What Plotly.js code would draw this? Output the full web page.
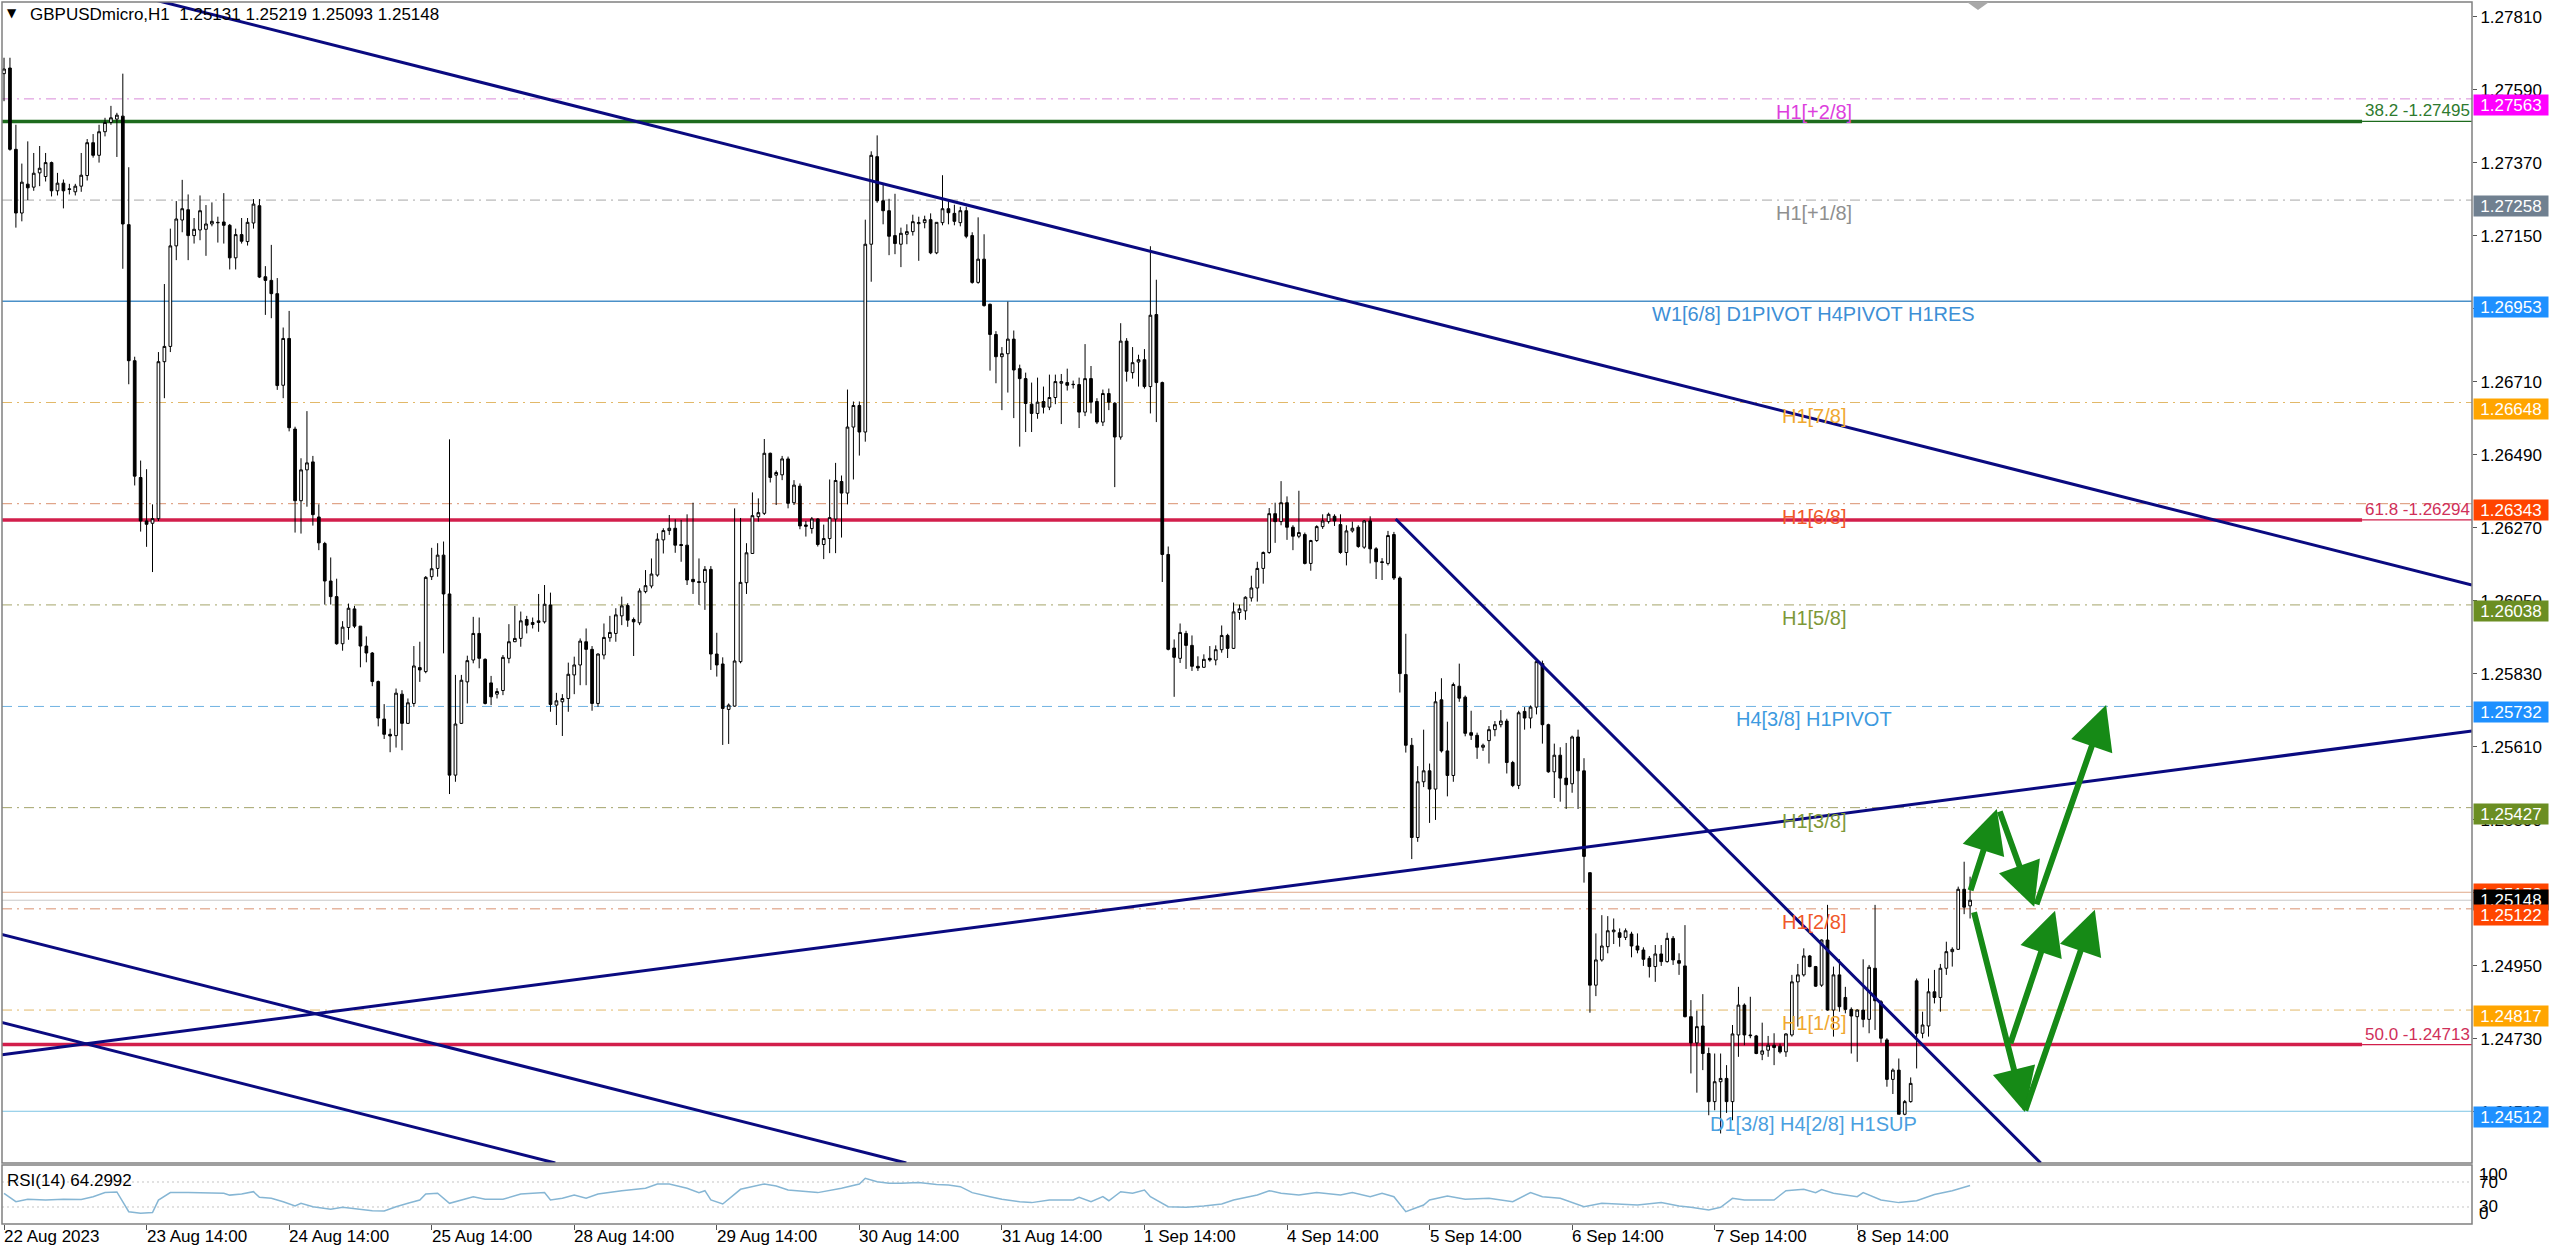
<!DOCTYPE html>
<html>
<head>
<meta charset="utf-8">
<script src="https://cdn.plot.ly/plotly-3.0.1.min.js"></script>
<style>html,body{margin:0;padding:0;background:#fff;}#chart{width:2560px;height:1252px;}</style>
</head>
<body>
<div id="chart"></div>
<script>
// ---------------- DATA ----------------
const symbolTitle = 'GBPUSDmicro,H1';
const openP = [
1.27639,1.27656,1.27411,1.27219,1.27306,1.27297,1.27340,1.27329,1.27371,1.27286,
1.27309,1.27292,1.27283,1.27300,1.27332,1.27431,1.27393,1.27464,1.27492,1.27502,
1.27511,1.27184,1.26774,1.26422,1.26291,1.26284,1.26298,1.26771,1.26817,1.27120,
1.27198,1.27229,1.27151,1.27168,1.27170,1.27186,1.27191,1.27192,1.27182,1.27084,
1.27154,1.27133,1.27189,1.27241,1.27027,1.27016,1.26976,1.26700,1.26841,1.26568,
1.26352,1.26445,1.26469,1.26303,1.26223,1.26110,1.26063,1.25921,1.25970,1.26026,
1.25974,1.25914,1.25893,1.25807,1.25694,1.25648,1.25644,1.25769,1.25681,1.25741,
1.25849,1.25837,1.26123,1.26148,1.26188,1.26071,1.25525,1.25681,1.25806,1.25872,
1.25952,1.25874,1.25803,1.25769,1.25780,1.25877,1.25927,1.25937,1.25994,1.25979,
1.25985,1.25987,1.26038,1.25736,1.25746,1.25756,1.25827,1.25857,1.25927,1.25904,
1.25741,1.25887,1.25939,1.25952,1.26005,1.26036,1.25994,1.25984,1.26078,1.26095,
1.26128,1.26234,1.26262,1.26269,1.26220,1.26218,1.26115,1.26108,1.26106,1.26145,
1.25890,1.25860,1.25723,1.25733,1.25867,1.26105,1.26193,1.26304,1.26314,1.26495,
1.26429,1.26430,1.26478,1.26346,1.26396,1.26279,1.26268,1.26297,1.26220,1.26238,
1.26297,1.26410,1.26375,1.26574,1.26639,1.26559,1.27125,1.27389,1.27256,1.27226,
1.27151,1.27125,1.27155,1.27163,1.27187,1.27190,1.27199,1.27099,1.27190,1.27232,
1.27218,1.27190,1.27226,1.27151,1.27010,1.27080,1.26944,1.26853,1.26786,1.26795,
1.26839,1.26750,1.26720,1.26643,1.26615,1.26651,1.26634,1.26663,1.26706,1.26708,
1.26703,1.26702,1.26619,1.26720,1.26651,1.26589,1.26675,1.26646,1.26544,1.26833,
1.26738,1.26770,1.26777,1.26696,1.26913,1.26708,1.26190,1.25908,1.25877,1.25952,
1.25916,1.25853,1.25850,1.25877,1.25872,1.25903,1.25946,1.25907,1.26015,1.26020,
1.26059,1.26089,1.26148,1.26196,1.26313,1.26289,1.26346,1.26272,1.26245,1.26250,
1.26163,1.26232,1.26274,1.26289,1.26305,1.26280,1.26196,1.26261,1.26272,1.26212,
1.26291,1.26207,1.26168,1.26163,1.26250,1.26119,1.25828,1.25615,1.25337,1.25505,
1.25538,1.25483,1.25752,1.25598,1.25524,1.25793,1.25760,1.25653,1.25645,1.25609,
1.25629,1.25662,1.25677,1.25688,1.25563,1.25494,1.25717,1.25697,1.25730,1.25861,
1.25677,1.25535,1.25585,1.25516,1.25499,1.25640,1.25538,1.25231,1.24892,1.24968,
1.25008,1.25053,1.25050,1.25036,1.25046,1.25010,1.24998,1.24973,1.24948,1.24986,
1.24963,1.25033,1.24966,1.24950,1.24797,1.24718,1.24769,1.24686,1.24541,1.24601,
1.24611,1.24541,1.24742,1.24832,1.24742,1.24739,1.24684,1.24696,1.24711,1.24708,
1.24691,1.24742,1.24902,1.24923,1.24980,1.24948,1.24892,1.25028,1.24817,1.24923,
1.24855,1.24819,1.24797,1.24817,1.24789,1.24943,1.24842,1.24727,1.24608,1.24636,
1.24503,1.24541,1.24905,1.24747,1.24769,1.24872,1.24855,1.24943,1.24993,1.25000,
1.25181,1.25131];
const highP = [
1.27687,1.27687,1.27485,1.27368,1.27435,1.27400,1.27421,1.27400,1.27374,1.27340,
1.27320,1.27307,1.27307,1.27400,1.27442,1.27457,1.27485,1.27506,1.27542,1.27521,
1.27639,1.27357,1.26786,1.26473,1.26447,1.26341,1.26800,1.27005,1.27172,1.27255,
1.27319,1.27275,1.27204,1.27272,1.27243,1.27251,1.27208,1.27279,1.27186,1.27172,
1.27204,1.27204,1.27261,1.27261,1.27059,1.27123,1.27023,1.26874,1.26924,1.26575,
1.26480,1.26622,1.26487,1.26341,1.26228,1.26181,1.26117,1.25989,1.26042,1.26035,
1.25974,1.25943,1.25896,1.25810,1.25739,1.25665,1.25786,1.25781,1.25756,1.25914,
1.25927,1.26125,1.26210,1.26224,1.26229,1.26537,1.25827,1.25827,1.25885,1.26002,
1.26000,1.25877,1.25824,1.25787,1.25887,1.25980,1.26035,1.26018,1.26005,1.26000,
1.26071,1.26098,1.26075,1.25773,1.25769,1.25864,1.25882,1.25937,1.25967,1.25914,
1.25892,1.25982,1.26005,1.26028,1.26063,1.26043,1.26000,1.26088,1.26143,1.26178,
1.26254,1.26269,1.26309,1.26296,1.26294,1.26311,1.26346,1.26178,1.26155,1.26155,
1.25954,1.25880,1.25741,1.26329,1.26300,1.26224,1.26377,1.26359,1.26538,1.26497,
1.26443,1.26487,1.26485,1.26414,1.26404,1.26291,1.26303,1.26299,1.26280,1.26416,
1.26466,1.26428,1.26687,1.26651,1.26651,1.27199,1.27405,1.27453,1.27304,1.27262,
1.27277,1.27175,1.27185,1.27214,1.27208,1.27211,1.27218,1.27191,1.27333,1.27254,
1.27244,1.27238,1.27238,1.27161,1.27206,1.27155,1.26946,1.26863,1.26815,1.26952,
1.26865,1.26762,1.26738,1.26708,1.26723,1.26696,1.26732,1.26732,1.26734,1.26750,
1.26714,1.26723,1.26824,1.26758,1.26661,1.26687,1.26690,1.26649,1.26887,1.26842,
1.26815,1.26792,1.26809,1.27119,1.27018,1.26711,1.26214,1.25934,1.25982,1.25960,
1.25946,1.25883,1.25889,1.25914,1.25916,1.25976,1.25951,1.26045,1.26039,1.26064,
1.26126,1.26168,1.26199,1.26330,1.26346,1.26411,1.26365,1.26278,1.26382,1.26256,
1.26234,1.26278,1.26311,1.26316,1.26311,1.26311,1.26278,1.26289,1.26278,1.26294,
1.26305,1.26212,1.26179,1.26261,1.26258,1.26124,1.25951,1.25637,1.25552,1.25662,
1.25560,1.25776,1.25817,1.25686,1.25804,1.25861,1.25765,1.25719,1.25653,1.25620,
1.25673,1.25688,1.25721,1.25695,1.25568,1.25719,1.25730,1.25735,1.25872,1.25870,
1.25680,1.25620,1.25609,1.25622,1.25644,1.25662,1.25576,1.25231,1.25048,1.25103,
1.25100,1.25093,1.25063,1.25063,1.25053,1.25048,1.25006,1.24980,1.25013,1.25013,
1.25050,1.25040,1.24988,1.25073,1.24847,1.24815,1.24865,1.24704,1.24686,1.24686,
1.24651,1.24772,1.24887,1.24837,1.24857,1.24742,1.24779,1.24739,1.24747,1.24716,
1.24747,1.24923,1.24956,1.25003,1.24983,1.24950,1.25030,1.25134,1.24948,1.24970,
1.24887,1.24825,1.24819,1.24970,1.24953,1.25134,1.24847,1.24732,1.24641,1.24671,
1.24546,1.24614,1.24912,1.24812,1.24912,1.24938,1.24956,1.25023,1.25006,1.25189,
1.25264,1.25219];
const lowP = [
1.27556,1.27407,1.27175,1.27194,1.27258,1.27286,1.27300,1.27314,1.27269,1.27272,
1.27233,1.27275,1.27272,1.27283,1.27317,1.27386,1.27371,1.27450,1.27485,1.27388,
1.27051,1.26703,1.26398,1.26259,1.26213,1.26137,1.26291,1.26661,1.26800,1.27077,
1.27161,1.27077,1.27127,1.27137,1.27090,1.27179,1.27130,1.27127,1.27049,1.27049,
1.27127,1.27121,1.27172,1.27023,1.26912,1.26902,1.26686,1.26661,1.26561,1.26256,
1.26253,1.26334,1.26277,1.26203,1.26039,1.26039,1.25918,1.25900,1.25933,1.25968,
1.25850,1.25865,1.25793,1.25672,1.25634,1.25594,1.25608,1.25600,1.25679,1.25731,
1.25806,1.25832,1.26113,1.26123,1.25892,1.25468,1.25505,1.25679,1.25741,1.25862,
1.25847,1.25738,1.25736,1.25756,1.25766,1.25862,1.25926,1.25912,1.25952,1.25967,
1.25957,1.25982,1.25716,1.25676,1.25643,1.25716,1.25769,1.25796,1.25796,1.25719,
1.25731,1.25874,1.25927,1.25927,1.25977,1.25972,1.25884,1.25977,1.26073,1.26088,
1.26123,1.26193,1.26249,1.26195,1.26168,1.26098,1.26071,1.26038,1.26023,1.25842,
1.25822,1.25616,1.25619,1.25731,1.25862,1.26071,1.26193,1.26289,1.26309,1.26407,
1.26339,1.26414,1.26329,1.26339,1.26266,1.26244,1.26253,1.26214,1.26176,1.26194,
1.26194,1.26241,1.26341,1.26416,1.26488,1.26530,1.27012,1.27250,1.27185,1.27092,
1.27095,1.27056,1.27125,1.27151,1.27075,1.27173,1.27095,1.27095,1.27182,1.27185,
1.27182,1.27179,1.27143,1.27006,1.27006,1.26937,1.26744,1.26706,1.26625,1.26678,
1.26601,1.26515,1.26559,1.26559,1.26599,1.26615,1.26625,1.26643,1.26583,1.26684,
1.26690,1.26571,1.26607,1.26615,1.26583,1.26577,1.26625,1.26393,1.26536,1.26711,
1.26720,1.26696,1.26690,1.26615,1.26589,1.26107,1.25901,1.25761,1.25863,1.25845,
1.25839,1.25839,1.25848,1.25867,1.25856,1.25894,1.25878,1.25905,1.25993,1.25993,
1.26048,1.26048,1.26102,1.26192,1.26225,1.26278,1.26234,1.26203,1.26239,1.26160,
1.26141,1.26228,1.26267,1.26283,1.26276,1.26192,1.26157,1.26256,1.26210,1.26207,
1.26163,1.26116,1.26113,1.26157,1.26113,1.25774,1.25593,1.25272,1.25324,1.25489,
1.25381,1.25390,1.25593,1.25461,1.25505,1.25746,1.25642,1.25631,1.25574,1.25598,
1.25560,1.25642,1.25669,1.25530,1.25489,1.25483,1.25662,1.25666,1.25708,1.25620,
1.25532,1.25456,1.25445,1.25423,1.25472,1.25423,1.25201,1.24809,1.24859,1.24963,
1.24988,1.25016,1.25008,1.25028,1.24976,1.24988,1.24950,1.24915,1.24902,1.24950,
1.24960,1.24953,1.24923,1.24795,1.24626,1.24568,1.24636,1.24500,1.24515,1.24445,
1.24507,1.24485,1.24676,1.24711,1.24732,1.24684,1.24666,1.24676,1.24651,1.24686,
1.24676,1.24737,1.24767,1.24918,1.24946,1.24887,1.24887,1.24815,1.24737,1.24812,
1.24807,1.24686,1.24661,1.24765,1.24747,1.24757,1.24718,1.24586,1.24564,1.24503,
1.24500,1.24538,1.24641,1.24732,1.24737,1.24837,1.24812,1.24923,1.24948,1.24998,
1.25106,1.25093];
const closeP = [
1.27653,1.27411,1.27219,1.27312,1.27295,1.27339,1.27354,1.27371,1.27286,1.27309,
1.27286,1.27290,1.27300,1.27333,1.27431,1.27393,1.27464,1.27492,1.27506,1.27514,
1.27186,1.26774,1.26426,1.26291,1.26281,1.26298,1.26771,1.26817,1.27120,1.27201,
1.27232,1.27151,1.27170,1.27226,1.27186,1.27194,1.27190,1.27182,1.27084,1.27154,
1.27134,1.27191,1.27246,1.27026,1.27016,1.26976,1.26699,1.26841,1.26572,1.26352,
1.26445,1.26466,1.26310,1.26225,1.26110,1.26063,1.25921,1.25971,1.26028,1.25974,
1.25914,1.25893,1.25807,1.25697,1.25648,1.25643,1.25772,1.25681,1.25743,1.25854,
1.25842,1.26121,1.26147,1.26188,1.26071,1.25525,1.25679,1.25811,1.25870,1.25952,
1.25877,1.25741,1.25761,1.25777,1.25880,1.25927,1.25937,1.25990,1.25977,1.25985,
1.25990,1.26040,1.25738,1.25749,1.25756,1.25829,1.25857,1.25929,1.25904,1.25741,
1.25890,1.25940,1.25955,1.26008,1.26035,1.25992,1.25987,1.26080,1.26096,1.26131,
1.26236,1.26262,1.26269,1.26218,1.26217,1.26113,1.26108,1.26106,1.26145,1.25890,
1.25857,1.25726,1.25736,1.25869,1.26106,1.26195,1.26307,1.26316,1.26495,1.26422,
1.26437,1.26478,1.26344,1.26399,1.26276,1.26275,1.26297,1.26220,1.26238,1.26301,
1.26413,1.26375,1.26574,1.26639,1.26559,1.27125,1.27393,1.27256,1.27226,1.27149,
1.27127,1.27158,1.27163,1.27193,1.27190,1.27199,1.27099,1.27191,1.27232,1.27220,
1.27194,1.27226,1.27149,1.27010,1.27080,1.26940,1.26853,1.26786,1.26795,1.26839,
1.26746,1.26720,1.26645,1.26615,1.26649,1.26634,1.26663,1.26711,1.26711,1.26700,
1.26702,1.26619,1.26720,1.26649,1.26589,1.26675,1.26649,1.26544,1.26833,1.26742,
1.26768,1.26777,1.26696,1.26911,1.26708,1.26190,1.25904,1.25880,1.25955,1.25916,
1.25853,1.25848,1.25874,1.25872,1.25903,1.25946,1.25907,1.26017,1.26026,1.26061,
1.26089,1.26148,1.26196,1.26313,1.26289,1.26346,1.26272,1.26245,1.26256,1.26163,
1.26232,1.26274,1.26291,1.26311,1.26291,1.26196,1.26261,1.26269,1.26214,1.26291,
1.26207,1.26168,1.26166,1.26247,1.26119,1.25831,1.25615,1.25337,1.25505,1.25538,
1.25483,1.25746,1.25598,1.25524,1.25798,1.25757,1.25651,1.25645,1.25609,1.25615,
1.25662,1.25677,1.25688,1.25563,1.25494,1.25713,1.25697,1.25730,1.25867,1.25677,
1.25535,1.25585,1.25516,1.25496,1.25640,1.25538,1.25280,1.24892,1.24968,1.25010,
1.25056,1.25058,1.25036,1.25056,1.25010,1.24998,1.24970,1.24948,1.24986,1.24963,
1.25033,1.24968,1.24958,1.24797,1.24718,1.24767,1.24686,1.24541,1.24601,1.24611,
1.24541,1.24745,1.24832,1.24742,1.24740,1.24686,1.24694,1.24711,1.24704,1.24691,
1.24745,1.24902,1.24923,1.24980,1.24948,1.24889,1.25028,1.24817,1.24923,1.24827,
1.24819,1.24799,1.24817,1.24789,1.24946,1.24845,1.24732,1.24608,1.24636,1.24503,
1.24541,1.24596,1.24747,1.24772,1.24872,1.24855,1.24943,1.24993,1.25000,1.25181,
1.25127,1.25148];

// RSI(14) read at selected bars: bar index / value
const rsiIdx = [0,2,4,7,10,13,15,17,19,21,23,25,26,28,31,34,37,38,40,42,43,45,47,49,50,52,55,57,60,62,64,66,68,70,71,73,75,77,79,81,84,87,91,92,94,96,98,100,104,108,110,112,115,117,118,119,121,124,126,128,130,132,137,139,141,144,145,147,149,151,154,157,159,161,163,166,168,171,173,176,180,181,183,185,186,188,190,192,193,196,199,202,205,207,211,213,215,218,221,225,227,230,232,234,236,239,240,243,246,250,254,257,259,262,266,269,272,275,279,282,284,287,289,291,293,298,300,303,305,306,308,312,313,316,319,322,325,328,331];
const rsiVal = [51.9,38.5,42.3,41.2,42.3,42,46.5,53,54,22.5,20,21,41,53,53,53,52,49,50.8,54.5,45.5,44,38.5,31.6,35.9,30.5,26.3,29.5,26.3,24,23.6,30.5,35.9,41.2,50.8,51.9,35.9,41.2,46.5,42.3,42.3,50.8,53,41.2,43.9,49.2,43.9,50.8,56.1,59.9,66.8,66.8,59.9,53,56.1,41.2,34.8,58.3,62.5,66.8,63.6,57.2,53,56.1,59.9,66.8,75.9,70.5,67.9,67.9,69,66,65,62.5,53,46.5,42.3,38.5,37,41.2,41.2,45.5,38.5,46.5,40,54.5,51.9,57.2,46.5,30.5,29.5,31.6,34.8,41.2,49.2,56.1,51.9,49.2,53,49.2,53,46.5,51.9,46.5,22.5,33.2,41.2,47.6,42.3,43.9,38.5,53,46.5,43.9,30.5,35.9,34.8,33.2,37,31.6,29.5,25.2,29.5,43.9,41.2,41.2,56.1,58.3,53,58,51.9,46.5,53,41.2,37,40,50,56,64.3];
const rsiLabel = 'RSI(14) 64.2992';
const rsiLevels = [70, 30];
const rsiScaleLabels = ['100', '70', '30', '0'];

// time axis labels (bar index of each label)
const timeTickIdx = [0,24,48,72,96,120,144,168,192,216,240,264,288,312];
const timeTickText = ['22 Aug 2023','23 Aug 14:00','24 Aug 14:00','25 Aug 14:00','28 Aug 14:00','29 Aug 14:00','30 Aug 14:00','31 Aug 14:00','1 Sep 14:00','4 Sep 14:00','5 Sep 14:00','6 Sep 14:00','7 Sep 14:00','8 Sep 14:00'];

// price axis tick values
const priceTicks = [1.2451,1.2473,1.2495,1.2517,1.2539,1.2561,1.2583,1.2605,1.2627,1.2649,1.2671,1.2693,1.2715,1.2737,1.2759,1.2781];

// Murrey-math style levels
const mmLevels = [1.27563,1.27258,1.26953,1.26648,1.26343,1.26038,1.25732,1.25427,1.25122,1.24817,1.24512];
const mmNames = ['H1[+2/8]','H1[+1/8]','W1[6/8] D1PIVOT H4PIVOT H1RES','H1[7/8]','H1[6/8]','H1[5/8]','H4[3/8] H1PIVOT','H1[3/8]','H1[2/8]','H1[1/8]','D1[3/8] H4[2/8] H1SUP'];

// Fibonacci levels
const fibLevels = [1.27495, 1.26294, 1.24713];
const fibNames = ['38.2', '61.8', '50.0'];

const askPrice = 1.25172;

// trend lines: [bar0, price0, bar1, price1]
const trendLines = [
  [25.4, 1.27861, 415.5, 1.26098],
  [-0.34, 1.24682, 415.5, 1.25658],
  [-0.67, 1.25046, 151.9, 1.24356],
  [-0.67, 1.24781, 92.8, 1.24356],
  [234.3, 1.26297, 342.9, 1.24356]
];
// projected path arrows: [tailBar, tailPrice, tipBar, tipPrice]
const arrowsPath = [
  [331.0, 1.25173, 335.5, 1.25423],
  [335.9, 1.25420, 341.8, 1.25128],
  [342.1, 1.25131, 353.9, 1.25736],
  [331.6, 1.25116, 340.2, 1.24510],
  [337.7, 1.24712, 345.3, 1.25116],
  [340.2, 1.24510, 352.0, 1.25119]
];

// ---------------- STYLES ----------------
const FONT = 'Liberation Sans, Arial, sans-serif';
const mmLineColor = ['#d98ad9','#a8a8a8','#4a90c8','#e2b868','#d9906e','#a4a46a','#6fb2e2','#a4a46a','#d9906e','#e2b868','#7cc4e4'];
const mmLineDash  = ['10px,5px,2px,5px','10px,5px,2px,5px','solid','10px,5px,2px,5px','10px,5px,2px,5px','10px,5px,2px,5px','10px,6px','10px,5px,2px,5px','10px,5px,2px,5px','10px,5px,2px,5px','solid'];
const mmLineWidth = [1,1,1.5,1,1,1,1,1,1,1,1];
const mmTextColor = ['#dd3fdd','#8f8f8f','#3d8fd6','#f0a830','#f0582a','#7d9838','#3d9ae0','#7d9838','#f0582a','#f0a830','#4aa0e0'];
const mmBoxColor  = ['#ff00ff','#708090','#1e90ff','#ffa500','#ff4500','#6b8e23','#1e90ff','#6b8e23','#ff4500','#ffa500','#1e90ff'];
const fibColor = ['#1d6b1d','#d21e4b','#d21e4b'];
const fibTextColor = ['#2e7a2e','#d0305a','#d0305a'];

const N = openP.length;
const xIdx = openP.map((_, i) => i);

const traces = [
  {
    type: 'candlestick', x: xIdx, open: openP, high: highP, low: lowP, close: closeP,
    xaxis: 'x', yaxis: 'y',
    increasing: { line: { color: '#000', width: 1 }, fillcolor: '#ffffff' },
    decreasing: { line: { color: '#000', width: 1 }, fillcolor: '#000000' },
    whiskerwidth: 0, hoverinfo: 'skip', showlegend: false
  },
  {
    type: 'scatter', mode: 'lines', x: rsiIdx, y: rsiVal, xaxis: 'x', yaxis: 'y2',
    line: { color: '#86b6d4', width: 1.5 }, hoverinfo: 'skip', showlegend: false
  }
];

const shapes = [];
const annotations = [];

// level lines
mmLevels.forEach((lv, i) => {
  shapes.push({ type: 'line', xref: 'paper', x0: 0, x1: 1, yref: 'y', y0: lv, y1: lv, layer: 'below',
    line: { color: mmLineColor[i], width: mmLineWidth[i], dash: mmLineDash[i] } });
  annotations.push({ xref: 'paper', x: 0.7336, xanchor: 'center', yref: 'y', y: lv, yanchor: 'top', yshift: -1,
    text: mmNames[i], showarrow: false, borderpad: 0, font: { family: FONT, size: 20, color: mmTextColor[i] } });
});
// ask / bid lines
shapes.push({ type: 'line', xref: 'paper', x0: 0, x1: 1, yref: 'y', y0: askPrice, y1: askPrice, layer: 'below', line: { color: '#e0a888', width: 1 } });
shapes.push({ type: 'line', xref: 'paper', x0: 0, x1: 1, yref: 'y', y0: closeP[N-1], y1: closeP[N-1], layer: 'below', line: { color: '#c8c8c8', width: 1 } });

// fib lines
fibLevels.forEach((lv, i) => {
  shapes.push({ type: 'line', xref: 'paper', x0: 0, x1: 0.9555, yref: 'y', y0: lv, y1: lv, layer: 'below', line: { color: fibColor[i], width: 3.5 } });
  shapes.push({ type: 'line', xref: 'paper', x0: 0.9555, x1: 1, yref: 'y', y0: lv, y1: lv, layer: 'below', line: { color: fibColor[i], width: 1.2 } });
  annotations.push({ xref: 'paper', x: 1, xanchor: 'right', xshift: -1, yref: 'y', y: lv, yanchor: 'bottom', yshift: 0,
    text: fibNames[i] + ' -' + lv.toFixed(5), showarrow: false, borderpad: 0, font: { family: FONT, size: 17, color: fibTextColor[i] } });
});

// trend lines
trendLines.forEach(t => {
  shapes.push({ type: 'line', xref: 'x', yref: 'y', x0: t[0], y0: t[1], x1: t[2], y1: t[3], layer: 'above',
    line: { color: '#0a0a80', width: 3 } });
});

// panel borders
shapes.push({ type: 'rect', xref: 'paper', yref: 'paper', x0: 0, x1: 1, y0: 0.0499, y1: 1, line: { color: '#808080', width: 1.5 }, layer: 'above' });
shapes.push({ type: 'rect', xref: 'paper', yref: 'paper', x0: 0, x1: 1, y0: 0, y1: 0.0483, line: { color: '#808080', width: 1.5 }, layer: 'above' });
// RSI levels
rsiLevels.forEach(v => {
  shapes.push({ type: 'line', xref: 'paper', x0: 0, x1: 1, yref: 'y2', y0: v, y1: v, layer: 'below', line: { color: '#c4c4c4', width: 1, dash: '2px,3px' } });
});
// shift marker
shapes.push({ type: 'path', xref: 'paper', yref: 'paper', path: 'M 0.7955 1 L 0.8045 1 L 0.8 0.9935 Z', fillcolor: '#a8a8a8', line: { width: 0 } });

// arrows
arrowsPath.forEach(a => {
  annotations.push({ xref: 'x', yref: 'y', axref: 'x', ayref: 'y', x: a[2], y: a[3], ax: a[0], ay: a[1], text: '',
    showarrow: true, arrowhead: 2, arrowsize: 1.45, arrowwidth: 6, arrowcolor: '#168a16', standoff: 0, startstandoff: 0 });
});

// price label boxes on the right axis: [price, colour, vertical shift]
const boxes = [];
mmLevels.forEach((lv, i) => { if (i < 8) boxes.push([lv, mmBoxColor[i], -6]); });
boxes.push([askPrice, '#ff4500', -2]);
boxes.push([closeP[N-1], '#000000', 0]);
boxes.push([mmLevels[8], mmBoxColor[8], -6]);
boxes.push([mmLevels[9], mmBoxColor[9], -6]);
boxes.push([mmLevels[10], mmBoxColor[10], -6]);
boxes.forEach(b => {
  annotations.push({ xref: 'paper', x: 1, xanchor: 'left', xshift: 1, yref: 'y', y: b[0], yanchor: 'middle', yshift: b[2],
    text: b[0].toFixed(5), showarrow: false, bgcolor: b[1], width: 74, height: 20, borderpad: 0,
    font: { family: FONT, size: 17, color: '#ffffff' } });
});

// time labels
timeTickIdx.forEach((k, i) => {
  annotations.push({ xref: 'x', x: k, xanchor: 'left', xshift: -1, yref: 'paper', y: -0.0106, yanchor: 'middle',
    text: timeTickText[i], showarrow: false, borderpad: 0, font: { family: FONT, size: 17, color: '#000' } });
});

// header
annotations.push({ xref: 'paper', x: 0, xanchor: 'left', xshift: 4, yref: 'paper', y: 1, yanchor: 'top', yshift: -3,
  text: '▼', showarrow: false, borderpad: 0, font: { family: 'DejaVu Sans, sans-serif', size: 12, color: '#000' } });
annotations.push({ xref: 'paper', x: 0, xanchor: 'left', xshift: 27, yref: 'paper', y: 1, yanchor: 'top', yshift: -2,
  text: symbolTitle + '\u00a0\u00a0' + [openP[N-1], highP[N-1], lowP[N-1], closeP[N-1]].map(v => v.toFixed(5)).join(' '),
  showarrow: false, borderpad: 0, font: { family: FONT, size: 17, color: '#000' } });

// RSI label and scale
annotations.push({ xref: 'paper', x: 0, xanchor: 'left', xshift: 4, yref: 'paper', y: 0.036, yanchor: 'middle',
  text: rsiLabel, showarrow: false, borderpad: 0, font: { family: FONT, size: 17, color: '#000' } });
const rsiScaleY = [0.0409, 0.0336, 0.0147, 0.0082];
rsiScaleLabels.forEach((t, i) => {
  annotations.push({ xref: 'paper', x: 1, xanchor: 'left', xshift: 6, yref: 'paper', y: rsiScaleY[i], yanchor: 'middle',
    text: t, showarrow: false, borderpad: 0, font: { family: FONT, size: 17, color: '#000' } });
});

const layout = {
  width: 2560, height: 1252,
  margin: { l: 2, r: 88, t: 2, b: 28, pad: 0 },
  paper_bgcolor: '#ffffff', plot_bgcolor: '#ffffff',
  showlegend: false, hovermode: false, dragmode: false,
  font: { family: FONT, size: 17, color: '#000' },
  boxgap: 0.35,
  xaxis: {
    domain: [0, 1], anchor: 'y2', range: [-0.34, 415.5], type: 'linear',
    rangeslider: { visible: false }, showgrid: false, zeroline: false,
    showline: false, tickmode: 'array', tickvals: timeTickIdx, ticktext: timeTickText,
    showticklabels: false, ticks: 'outside', ticklen: 5, tickcolor: '#555'
  },
  yaxis: {
    domain: [0.0499, 1], anchor: 'x', side: 'right', range: [1.24356, 1.27855],
    showgrid: false, zeroline: false, showline: false,
    tickmode: 'array', tickvals: priceTicks, tickformat: '.5f',
    ticks: 'outside', ticklen: 4, tickcolor: '#555',
    tickfont: { family: FONT, size: 17, color: '#000' }
  },
  yaxis2: {
    domain: [0, 0.0483], anchor: 'x', side: 'right', range: [2.8, 97.2],
    showgrid: false, zeroline: false, showline: false, showticklabels: false, ticks: ''
  },
  shapes: shapes,
  annotations: annotations
};

Plotly.newPlot('chart', traces, layout, { staticPlot: true, displayModeBar: false });
</script>
</body>
</html>
